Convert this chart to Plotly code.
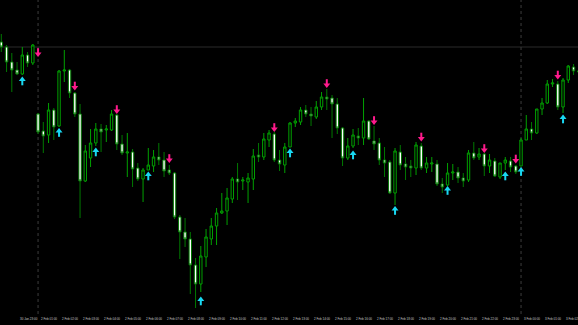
import plotly.graph_objects as go

# ---- data (price points, M15 bars) ----
bar_index = list(range(111))
open_ = [272, 267, 252, 244, 240, 259, 251, 200, 183, 179, 204, 188, 243, 244, 221, 200, 133, 156, 171, 185,
         184, 184, 199, 170, 161, 162, 146, 135, 144, 148, 157, 154, 144, 141, 97, 82, 75, 49, 30, 57,
         75, 88, 101, 103, 115, 135, 133, 132, 135, 159, 157, 174, 180, 154, 149, 167, 191, 192, 204, 200,
         197, 207, 217, 216, 210, 186, 156, 168, 178, 176, 193, 173, 171, 154, 152, 121, 162, 150, 148, 146,
         168, 146, 150, 150, 130, 129, 141, 142, 136, 134, 161, 157, 160, 148, 153, 137, 151, 153, 148, 148,
         174, 185, 181, 205, 211, 230, 230, 207, 234, 247, 242]
high = [280, 269, 261, 252, 267, 262, 270, 201, 192, 211, 206, 244, 264, 245, 222, 210, 169, 185, 191, 190,
        189, 204, 200, 179, 181, 165, 151, 146, 166, 164, 171, 162, 149, 142, 99, 96, 82, 56, 68, 85,
        96, 106, 121, 126, 137, 151, 137, 141, 165, 171, 181, 184, 182, 164, 171, 192, 196, 207, 209, 207,
        213, 222, 225, 219, 216, 187, 176, 185, 186, 216, 194, 188, 176, 167, 154, 166, 169, 157, 154, 172,
        171, 157, 157, 154, 136, 151, 150, 147, 141, 164, 172, 166, 161, 160, 156, 151, 157, 157, 149, 176,
        199, 192, 205, 216, 234, 235, 233, 236, 249, 250, 244]
low = [262, 242, 222, 239, 239, 247, 249, 180, 161, 171, 174, 187, 232, 216, 197, 96, 132, 147, 168, 162,
       172, 183, 164, 159, 137, 127, 133, 112, 144, 142, 149, 137, 139, 95, 55, 67, 20, 6, 22, 47,
       69, 69, 100, 89, 111, 114, 124, 111, 124, 152, 154, 167, 152, 143, 141, 167, 187, 189, 197, 188,
       195, 204, 204, 176, 180, 148, 154, 166, 169, 169, 174, 164, 149, 137, 120, 109, 144, 134, 137, 139,
       144, 141, 142, 128, 121, 128, 134, 131, 127, 132, 154, 154, 138, 141, 137, 135, 144, 142, 140, 148,
       174, 174, 180, 199, 210, 227, 204, 201, 231, 239, 240]
close = [267, 252, 244, 240, 259, 251, 269, 182, 178, 204, 187, 243, 244, 221, 200, 133, 163, 171, 185, 182,
         185, 200, 170, 161, 162, 145, 135, 144, 149, 157, 154, 143, 141, 97, 82, 75, 49, 30, 58, 77,
         88, 101, 103, 116, 135, 132, 134, 136, 158, 157, 175, 181, 154, 150, 167, 191, 193, 204, 200, 198,
         207, 217, 215, 210, 186, 156, 168, 179, 176, 193, 175, 170, 154, 151, 121, 163, 149, 147, 146, 169,
         146, 151, 151, 130, 127, 141, 142, 136, 133, 161, 156, 160, 148, 154, 138, 151, 154, 147, 142, 174,
         185, 181, 205, 211, 230, 231, 207, 234, 248, 243, 243]

# signal arrows (bar index, price level of arrow centre)
sell_idx = [7, 14, 22, 32, 52, 62, 71, 80, 92, 98, 106]
sell_price = [260.5, 227, 203.5, 154.5, 185.5, 229.5, 192.5, 176, 164.5, 154, 238]
buy_idx = [4, 11, 18, 28, 38, 55, 67, 75, 85, 96, 99, 107]
buy_price = [234, 182.5, 163, 139, 14, 162, 160, 104.5, 124.5, 139, 143.5, 196]

level_price = 267
separator_idx = [7, 99]

label_idx = [-1, 3, 7, 11, 15, 19, 23, 27, 31, 35, 39, 43, 47, 51, 55, 59, 63, 67, 71, 75, 79, 83, 87,
             91, 95, 99, 103, 107]
label_text = ["30 Jan 22:00", "30 Jan 23:00", "2 Feb 01:00", "2 Feb 02:00", "2 Feb 03:00", "2 Feb 04:00",
              "2 Feb 05:00", "2 Feb 06:00", "2 Feb 07:00", "2 Feb 08:00", "2 Feb 09:00", "2 Feb 10:00",
              "2 Feb 11:00", "2 Feb 12:00", "2 Feb 13:00", "2 Feb 14:00", "2 Feb 15:00", "2 Feb 16:00",
              "2 Feb 17:00", "2 Feb 18:00", "2 Feb 19:00", "2 Feb 20:00", "2 Feb 21:00", "2 Feb 22:00",
              "2 Feb 23:00", "3 Feb 00:00", "3 Feb 01:00", "3 Feb 02:00"]

SELL_COLOR = "#ff1a8c"
BUY_COLOR = "#19d8f2"

fig = go.Figure()

fig.add_trace(go.Candlestick(
    x=bar_index, open=open_, high=high, low=low, close=close,
    increasing=dict(fillcolor="#000000", line=dict(color="#00a000", width=1)),
    decreasing=dict(fillcolor="#ffffff", line=dict(color="#007800", width=1)),
    whiskerwidth=0, showlegend=False, hoverinfo="skip",
))

# down arrows (head + stem)
fig.add_trace(go.Scatter(
    x=sell_idx, y=[p + 2.5 for p in sell_price], mode="markers",
    marker=dict(symbol="line-ns", size=4, line=dict(color=SELL_COLOR, width=2)),
    showlegend=False, hoverinfo="skip"))
fig.add_trace(go.Scatter(
    x=sell_idx, y=[p - 0.5 for p in sell_price], mode="markers",
    marker=dict(symbol="triangle-down", size=6, color=SELL_COLOR, line=dict(width=0)),
    showlegend=False, hoverinfo="skip"))
# up arrows
fig.add_trace(go.Scatter(
    x=buy_idx, y=[p - 2.5 for p in buy_price], mode="markers",
    marker=dict(symbol="line-ns", size=4, line=dict(color=BUY_COLOR, width=2)),
    showlegend=False, hoverinfo="skip"))
fig.add_trace(go.Scatter(
    x=buy_idx, y=[p + 0.5 for p in buy_price], mode="markers",
    marker=dict(symbol="triangle-up", size=6, color=BUY_COLOR, line=dict(width=0)),
    showlegend=False, hoverinfo="skip"))

shapes = [dict(type="line", xref="paper", x0=0, x1=1, yref="y", y0=level_price, y1=level_price,
               line=dict(color="#2b2b2b", width=1), layer="below")]
for s in separator_idx:
    shapes.append(dict(type="line", xref="x", x0=s, x1=s, yref="paper", y0=0, y1=1,
                       line=dict(color="#3c3c3c", width=1, dash="dot"), layer="below"))

annotations = []
for i, t in zip(label_idx, label_text):
    annotations.append(dict(x=i, y=0, xref="x", yref="paper", text=t, showarrow=False,
                            xanchor="left", yanchor="top", yshift=-1, xshift=1,
                            font=dict(family="Liberation Sans, Arial", size=3, color="#c8c8c8")))

fig.update_layout(
    width=578, height=325,
    margin=dict(l=0, r=0, t=0, b=11),
    paper_bgcolor="#000000", plot_bgcolor="#000000",
    boxgap=0.35,
    xaxis=dict(range=[-0.248, 109.85], showgrid=False, zeroline=False, showticklabels=False,
               rangeslider=dict(visible=False), fixedrange=True),
    yaxis=dict(range=[0, 314], showgrid=False, zeroline=False, showticklabels=False, fixedrange=True),
    shapes=shapes, annotations=annotations,
)

fig.write_html("out.html")
